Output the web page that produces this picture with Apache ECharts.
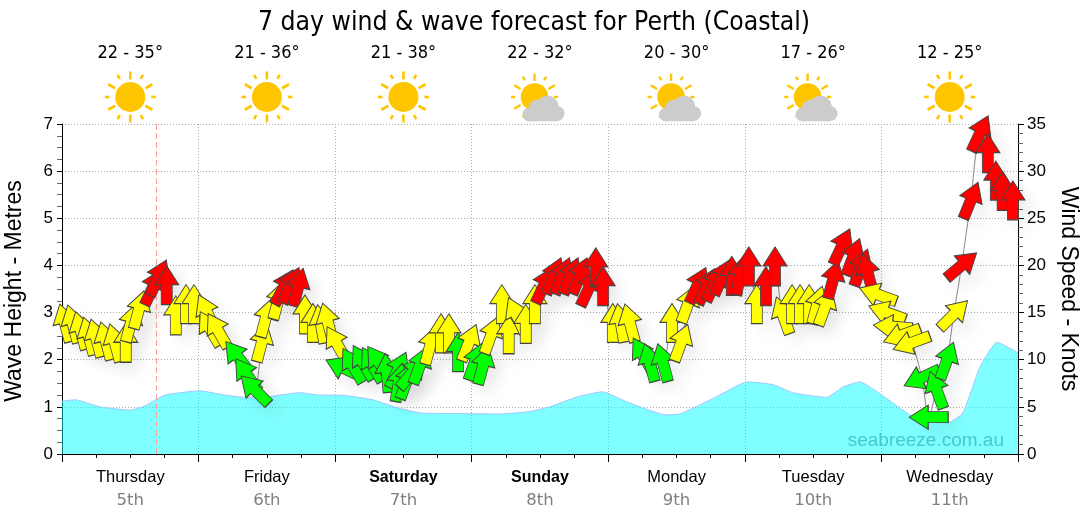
<!DOCTYPE html>
<html>
<head>
<meta charset="utf-8">
<style>html,body{margin:0;padding:0;background:#fff}#chart{width:1080px;height:522px}</style>
<script src="https://cdn.jsdelivr.net/npm/echarts@6/dist/echarts.min.js"></script>
</head>
<body>
<div id="chart"></div>
<script>
const dayNames = ['Thursday','Friday','Saturday','Sunday','Monday','Tuesday','Wednesday'];
const dayDates = ['5th','6th','7th','8th','9th','10th','11th'];
const weekendDays = ['Saturday','Sunday'];
const tempRanges = ['22 - 35°','21 - 36°','21 - 38°','22 - 32°','20 - 30°','17 - 26°','12 - 25°'];
const skies = ['sun','sun','sun','partly','partly','partly','sun'];

// Forecast time in hours since Thursday 00:00
const windHours = [0.5,1.9,3.3,4.7,6.0,7.7,9.3,11.2,12.1,13.5,16.0,16.9,18.4,20.0,21.8,23.2,25.5,26.0,27.4,30.9,32.5,33.9,35.1,35.8,38.0,39.0,40.2,41.5,42.7,44.1,45.5,46.7,48.3,49.5,51.1,52.9,54.5,55.7,57.1,59.0,59.2,60.6,61.5,62.9,64.7,66.6,68.0,69.6,71.5,72.6,74.0,75.4,77.3,78.5,79.9,81.5,83.1,84.7,86.4,87.9,89.4,91.0,92.6,93.8,95.1,96.8,98.2,99.8,102.1,103.3,105.6,107.2,108.8,110.0,111.7,113.3,114.7,116.1,117.7,119.1,120.7,122.1,123.7,125.3,126.7,128.3,129.7,131.3,132.7,134.1,135.5,137.0,139.0,140.4,141.6,143.4,145.0,146.0,147.6,149.3,151.1,152.3,153.7,155.5,156.7,158.1,159.7,161.3,162.7,164.1,165.3,167.1];
// Wind speed in knots
const windKnots = [13.9,13.8,13.1,12.5,12.3,12.0,11.8,11.8,13.9,15.3,17.7,18.7,17.9,14.7,15.9,15.9,15.0,13.3,13.1,10.3,8.4,6.8,11.8,14.4,16.3,17.7,17.9,17.7,14.8,13.9,13.8,14.0,11.7,9.1,9.4,9.7,9.5,9.7,8.6,8.9,7.6,7.8,8.6,9.4,11.5,12.8,12.8,10.8,11.8,9.8,9.4,12.6,15.9,12.7,14.7,13.8,15.9,17.9,18.9,18.9,18.9,18.9,17.6,19.8,17.8,13.9,13.9,13.9,10.5,9.7,9.7,13.9,11.8,15.9,17.9,17.8,18.1,18.8,18.9,18.9,19.9,15.9,17.8,19.9,14.7,15.9,15.9,15.9,15.8,15.6,18.5,22.0,20.9,19.8,19.2,16.9,15.0,13.5,12.6,11.8,8.1,3.9,6.8,9.9,14.8,20.0,26.9,34.0,31.9,29.0,27.9,26.9];
// Heading of each arrow, degrees clockwise from straight up
const windHeading = [-15,-15,-15,-15,-15,-15,-15,0,15,15,25,25,0,0,0,0,-25,-30,-30,-38,-35,-45,15,15,15,28,25,15,0,0,-10,-15,-30,-65,-30,-30,-30,-35,-5,25,10,20,40,20,15,0,0,0,22,20,15,20,0,0,-25,0,0,25,22,22,22,22,25,0,0,0,-10,-15,-30,-15,-15,0,20,20,25,25,25,25,0,10,0,0,0,0,-20,0,0,0,15,20,15,25,20,20,-15,-70,-70,-85,-110,-110,-115,-90,-20,20,45,50,22,25,0,0,0,0];

const waveHours = [0,2.3,6.7,11.9,14.6,18.1,24.2,28.6,32.2,36.5,41.8,45.3,48.8,54.6,58.9,62.9,67.3,77,82.2,85.7,90.5,95,98.4,101.6,106,108.6,112.1,115.6,120.4,125,128.4,134.4,137.2,140.2,144.3,149,152,155.7,158.3,161.3,164.3,168];
const waveMetres = [1.12,1.15,1.0,0.93,1.02,1.25,1.34,1.25,1.2,1.22,1.3,1.25,1.25,1.15,0.98,0.87,0.86,0.85,0.9,1.0,1.21,1.32,1.15,1.0,0.83,0.85,1.04,1.25,1.53,1.47,1.3,1.2,1.42,1.53,1.23,0.83,0.68,0.66,0.87,1.84,2.37,2.15];

const nowHour = 16.5;

const arrowPath = 'path://M12 0 L24 19 L17.5 19 L17.5 39 L6.5 39 L6.5 19 L0 19 Z';
const ARROW_SIZE = [24, 39];
const SANS = '"Liberation Sans", Arial, sans-serif';
const WIDE = '"DejaVu Sans", Verdana, sans-serif';
const TITLE_FONT = '"DejaVu Sans Condensed", Tahoma, sans-serif';

function windColor(knots) {
  if (knots < 11) return '#00ff00';
  if (knots < 17) return '#ffff00';
  return '#ff0000';
}

const windPairs = windHours.map((h, i) => [h, windKnots[i]]);
const arrowItems = windPairs.map((v, i) => ({
  value: v,
  symbolRotate: -windHeading[i],
  itemStyle: { color: windColor(v[1]) }
}));

// Weather icon: sun with alternating long and short rays, optional cloud in front
function renderSky(params, api) {
  const c = api.coord([api.value(0), 0.5]);
  const partly = skies[params.dataIndex] === 'partly';
  const cx = c[0] + (partly ? -5.5 : 0);
  const cy = c[1] + 1;
  const k = partly ? 0.92 : 1;
  const gold = '#ffc600';
  const kids = [{ type: 'circle', shape: { cx, cy, r: 15 * k }, style: { fill: gold } }];
  for (let a = 0; a < 360; a += 30) {
    const long = a % 60 === 0;
    const r0 = (long ? 17.5 : 21) * k, r1 = 25.5 * k;
    const s = Math.sin(a * Math.PI / 180), q = Math.cos(a * Math.PI / 180);
    kids.push({
      type: 'line',
      shape: { x1: cx + s * r0, y1: cy - q * r0, x2: cx + s * r1, y2: cy - q * r1 },
      style: { stroke: gold, lineWidth: 2.6 * k, lineCap: 'butt' }
    });
  }
  if (partly) {
    const g = '#cccccc';
    [[-5, 17.5, 7], [3, 11.5, 9], [13, 9.8, 11], [22.5, 16.5, 7.5]].forEach(p => {
      kids.push({ type: 'circle', shape: { cx: cx + p[0], cy: cy + p[1], r: p[2] }, style: { fill: g } });
    });
    kids.push({ type: 'rect', shape: { x: cx - 5, y: cy + 12, width: 27.5, height: 12.3 }, style: { fill: g } });
  }
  return { type: 'group', children: kids };
}

const chart = echarts.init(document.getElementById('chart'), null, { renderer: 'canvas' });
const dotted = { show: true, lineStyle: { color: '#aaa', type: [1, 2], width: 1 } };

chart.setOption({
  animation: false,
  backgroundColor: '#fff',
  title: {
    text: '7 day wind & wave forecast for Perth (Coastal)',
    left: 253, top: 5,
    textStyle: { fontFamily: TITLE_FONT, fontWeight: 'normal', fontSize: 26.3, color: '#000' }
  },
  graphic: [{
    type: 'text', right: 76, top: 431,
    style: { text: 'seabreeze.com.au', font: '19px ' + SANS, fill: 'rgba(0,128,150,0.45)' },
    z: 20
  }],
  grid: [
    { left: 62, right: 62, top: 124, bottom: 68, outerBoundsMode: 'none' },
    { left: 62, right: 62, top: 68, height: 56, outerBoundsMode: 'none' }
  ],
  xAxis: [
    {
      type: 'value', gridIndex: 0, min: 0, max: 168, interval: 24,
      axisLine: { onZero: false, lineStyle: { color: '#000' } },
      axisTick: { show: true, length: 8, lineStyle: { color: '#000' } },
      minorTick: { show: true, splitNumber: 4, length: 4, lineStyle: { color: '#000' } },
      axisLabel: { show: false },
      splitLine: dotted
    },
    {
      type: 'category', gridIndex: 0, position: 'bottom', data: dayNames,
      axisLine: { show: false }, axisTick: { show: false }, splitLine: { show: false },
      axisLabel: {
        show: true, margin: 12, interval: 0, lineHeight: 23,
        formatter: (name, i) => {
          const style = weekendDays.includes(name) ? 'w' : 'd';
          return '{' + style + '|' + name + '}\n{n|' + dayDates[i] + '}';
        },
        rich: {
          d: { fontFamily: SANS, fontSize: 16.5, color: '#000', lineHeight: 23 },
          w: { fontFamily: SANS, fontSize: 16, color: '#000', fontWeight: 'bold', lineHeight: 23 },
          n: { fontFamily: WIDE, fontSize: 16.5, color: '#808080', lineHeight: 23 }
        }
      }
    },
    {
      type: 'category', gridIndex: 1, position: 'top', data: tempRanges,
      axisLine: { show: false }, axisTick: { show: false }, splitLine: { show: false },
      axisLabel: { show: true, interval: 0, margin: 6, fontFamily: TITLE_FONT, fontSize: 18, color: '#000' }
    }
  ],
  yAxis: [
    {
      type: 'value', gridIndex: 0, min: 0, max: 7, interval: 1, position: 'left',
      name: 'Wave Height - Metres', nameLocation: 'middle', nameRotate: 90, nameGap: 36,
      nameTextStyle: { fontFamily: SANS, fontSize: 23, color: '#000', padding: [0, 4, 0, 0] },
      axisLine: { show: true, onZero: false, lineStyle: { color: '#000' } },
      axisTick: { show: true, length: 5, lineStyle: { color: '#000' } },
      minorTick: { show: true, splitNumber: 4, length: 5, lineStyle: { color: '#666' } },
      axisLabel: { fontFamily: SANS, fontSize: 17, color: '#000', margin: 9 },
      splitLine: dotted
    },
    {
      type: 'value', gridIndex: 0, min: 0, max: 35, interval: 5, position: 'right',
      name: 'Wind Speed - Knots', nameLocation: 'middle', nameRotate: -90, nameGap: 37,
      nameTextStyle: { fontFamily: SANS, fontSize: 23, color: '#000' },
      axisLine: { show: true, onZero: false, lineStyle: { color: '#000' } },
      axisTick: { show: true, length: 6, lineStyle: { color: '#000' } },
      minorTick: { show: true, splitNumber: 5, length: 5, lineStyle: { color: '#666' } },
      axisLabel: { fontFamily: SANS, fontSize: 17, color: '#000', margin: 9 },
      splitLine: { show: false }
    },
    { type: 'value', gridIndex: 1, min: 0, max: 1, show: false }
  ],
  series: [
    {
      type: 'line', name: 'Wave height', xAxisIndex: 0, yAxisIndex: 0,
      data: waveHours.map((h, i) => [h, waveMetres[i]]),
      smooth: 0.15, showSymbol: false, z: 2,
      lineStyle: { color: '#a0c8ff', width: 1 },
      areaStyle: { color: 'rgba(0,255,255,0.5)', opacity: 1 },
      markLine: {
        silent: true, symbol: 'none', label: { show: false },
        lineStyle: { color: '#ff9a9a', type: [6, 3], width: 1 },
        data: [{ xAxis: nowHour }]
      }
    },
    {
      type: 'line', name: 'Wind trace', xAxisIndex: 0, yAxisIndex: 1,
      data: windPairs, smooth: 0.25, showSymbol: false, z: 3,
      lineStyle: { color: '#888', width: 1 }
    },
    {
      type: 'scatter', name: 'Arrow shadow', xAxisIndex: 0, yAxisIndex: 1,
      data: windPairs.map((v, i) => ({ value: v, symbolRotate: -windHeading[i] })),
      symbol: arrowPath, symbolSize: ARROW_SIZE, clip: false, z: 4, silent: true,
      itemStyle: { color: '#fff', shadowBlur: 16, shadowOffsetX: 9, shadowOffsetY: 9, shadowColor: 'rgba(0,0,0,0.09)' }
    },
    {
      type: 'scatter', name: 'Wind', xAxisIndex: 0, yAxisIndex: 1,
      data: arrowItems,
      symbol: arrowPath, symbolSize: ARROW_SIZE, clip: false, z: 5,
      itemStyle: { borderColor: '#444', borderWidth: 1, opacity: 1 }
    },
    {
      type: 'custom', name: 'Sky', xAxisIndex: 2, yAxisIndex: 2,
      data: tempRanges.map((t, i) => [i]),
      clip: false, renderItem: renderSky, z: 6
    }
  ]
});
</script>
</body>
</html>
